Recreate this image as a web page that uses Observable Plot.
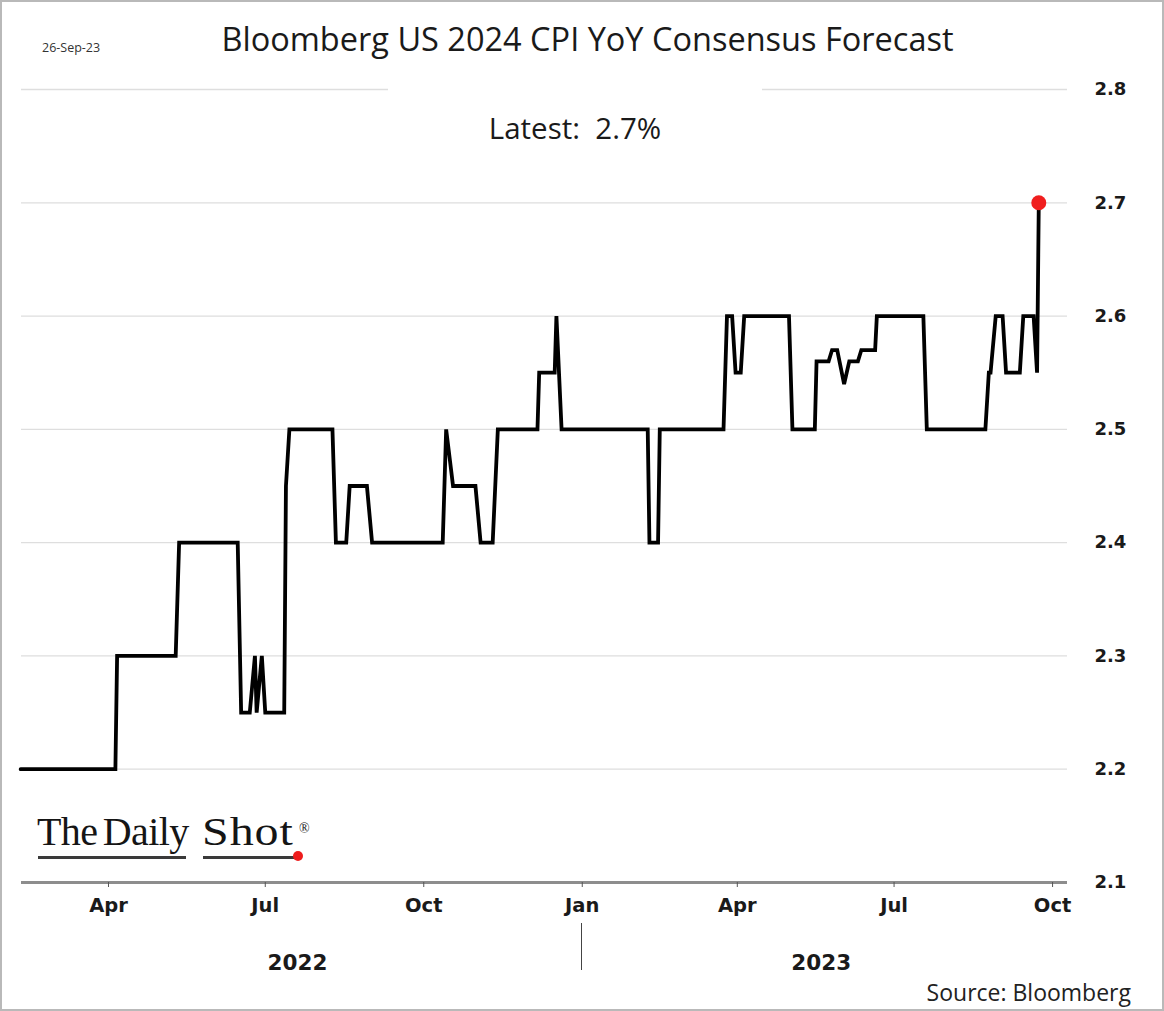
<!DOCTYPE html>
<html>
<head>
<meta charset="utf-8">
<script src="https://cdn.jsdelivr.net/npm/d3@7"></script>
<script src="https://cdn.jsdelivr.net/npm/@observablehq/plot@0.6"></script>
<style>
  body { margin: 0; background: #fff; }
  #wrap { position: relative; width: 1164px; height: 1011px; overflow: hidden; background: #fff; font-family: "Open Sans", sans-serif; color: #1a1a1a; }
  #wrap svg { position: absolute; left: 0; top: 0; }
  .abs { position: absolute; white-space: nowrap; }
  #frame { position: absolute; left: 0; top: 0; right: 0; bottom: 0; border: 2px solid #b9b9b9; pointer-events: none; }
  #title { left: 0; width: 1175px; top: 17px; text-align: center; font-size: 32.5px; line-height: 44px; }
  #date { left: 42px; top: 38px; font-size: 12.5px; line-height: 20px; color: #333; }
  #latest { left: 388px; width: 374px; top: 82px; height: 76px; background: #fff; text-align: center; font-size: 29.5px; line-height: 92px; }
  #source { right: 33px; top: 974px; font-size: 23px; line-height: 36px; color: #222; }
  .year { top: 945px; font-family: "DejaVu Sans", sans-serif; font-weight: bold; font-size: 21.5px; line-height: 36px; transform: translateX(-50%); }
  #sep { left: 577px; top: 923px; width: 1px; height: 47px; background: #444; }
  .logo { top: 810px; font-family: "Liberation Serif", "DejaVu Serif", serif; font-size: 40px; line-height: 44px; color: #151515; letter-spacing: -0.6px; word-spacing: -4px; }
  #logo2 { transform: scaleX(1.2); transform-origin: left center; letter-spacing: 0.8px; }
  #reg { left: 299px; top: 822px; font-family: "Liberation Serif", serif; font-size: 14px; line-height: 14px; color: #151515; }
  .ul { position: absolute; height: 3px; background: #3a3a3a; top: 856px; }
  #reddot { left: 293px; top: 851px; width: 10px; height: 10px; border-radius: 50%; background: #ee1c1c; }
</style>
</head>
<body>
<div id="wrap">
  <div id="chart"></div>
  <div class="abs" id="title">Bloomberg US 2024 CPI YoY Consensus Forecast</div>
  <div class="abs" id="date">26-Sep-23</div>
  <div class="abs" id="latest">Latest:&nbsp; 2.7%</div>
  <div class="abs logo" style="left:37px">The Daily</div>
  <div class="abs logo" id="logo2" style="left:202px">Shot</div>
  <div class="abs" id="reg">®</div>
  <div class="ul" style="left:38px;width:148px"></div>
  <div class="ul" style="left:203px;width:92px"></div>
  <div class="abs" id="reddot"></div>
  <div class="abs year" id="y2022"></div>
  <div class="abs year" id="y2023"></div>
  <div class="abs" id="sep"></div>
  <div class="abs" id="source">Source: Bloomberg</div>
  <div id="frame"></div>
</div>
<script>
// ---- data ----
const dates = [
  "2022-02-09","2022-04-05","2022-04-06","2022-05-10","2022-05-12","2022-06-15","2022-06-17","2022-06-22",
  "2022-06-25","2022-06-26","2022-06-29","2022-07-01","2022-07-12","2022-07-13","2022-07-15","2022-08-09",
  "2022-08-11","2022-08-17","2022-08-19","2022-08-29","2022-09-01","2022-10-12","2022-10-14","2022-10-18",
  "2022-10-31","2022-11-03","2022-11-10","2022-11-13","2022-12-06","2022-12-07","2022-12-16","2022-12-17",
  "2022-12-20","2023-02-08","2023-02-09","2023-02-14","2023-02-15","2023-03-24","2023-03-26","2023-03-29",
  "2023-03-31","2023-04-03","2023-04-05","2023-05-01","2023-05-03","2023-05-16","2023-05-17","2023-05-24",
  "2023-05-26","2023-05-29","2023-06-02","2023-06-05","2023-06-10","2023-06-12","2023-06-20","2023-06-21",
  "2023-07-18","2023-07-20","2023-08-23","2023-08-25","2023-08-26","2023-08-29","2023-09-02","2023-09-04",
  "2023-09-12","2023-09-14","2023-09-20","2023-09-22","2023-09-23"
];
const values = [
  2.2, 2.2, 2.3, 2.3, 2.4, 2.4, 2.25, 2.25,
  2.3, 2.25, 2.3, 2.25, 2.25, 2.45, 2.5, 2.5,
  2.4, 2.4, 2.45, 2.45, 2.4, 2.4, 2.5, 2.45,
  2.45, 2.4, 2.4, 2.5, 2.5, 2.55, 2.55, 2.6,
  2.5, 2.5, 2.4, 2.4, 2.5, 2.5, 2.6, 2.6,
  2.55, 2.55, 2.6, 2.6, 2.5, 2.5, 2.56, 2.56,
  2.57, 2.57, 2.54, 2.56, 2.56, 2.57, 2.57, 2.6,
  2.6, 2.5, 2.5, 2.55, 2.55, 2.6, 2.6, 2.55,
  2.55, 2.6, 2.6, 2.55, 2.7
];
const xTicks = ["2022-04-01","2022-07-01","2022-10-01","2023-01-01","2023-04-01","2023-07-01","2023-10-01"];
const xTickLabels = ["Apr","Jul","Oct","Jan","Apr","Jul","Oct"];
const yTicks = [2.1, 2.2, 2.3, 2.4, 2.5, 2.6, 2.7, 2.8];
const gridLevels = [2.2, 2.3, 2.4, 2.5, 2.6, 2.7, 2.8];
const years = [{label: "2022", mid: "2022-07-20"}, {label: "2023", mid: "2023-05-20"}];
const xDomain = ["2022-02-09T12:00Z", "2023-10-09T16:00Z"];
const yDomain = [2.1, 2.8];

// ---- build ----
const parse = s => new Date(s.length === 10 ? s + "T00:00Z" : s);
const rows = dates.map((d, i) => ({date: parse(d), value: values[i]}));
const tickDates = xTicks.map(parse);

const chart = Plot.plot({
  width: 1164,
  height: 1011,
  marginLeft: 21,
  marginRight: 97,
  marginTop: 89,
  marginBottom: 129,
  style: {background: "transparent", overflow: "visible", fontFamily: "DejaVu Sans, sans-serif", color: "#1a1a1a"},
  x: {type: "utc", domain: xDomain.map(parse)},
  y: {domain: yDomain},
  marks: [
    Plot.ruleY(gridLevels, {stroke: "#dedede", strokeWidth: 1.3}),
    Plot.ruleY([yDomain[0]], {stroke: "#8d8d8d", strokeWidth: 3}),
    Plot.axisX({
      ticks: tickDates,
      tickFormat: d => xTickLabels[tickDates.findIndex(t => +t === +d)],
      tickSize: 5,
      tickPadding: 11,
      fontSize: 19.5,
      fontWeight: "bold",
      stroke: "#555",
      fill: "#1a1a1a",
      label: null
    }),
    Plot.axisY({
      anchor: "right",
      ticks: yTicks,
      tickFormat: d => d.toFixed(1),
      tickSize: 0,
      tickPadding: 27,
      fontSize: 18,
      fontWeight: "bold",
      fill: "#1a1a1a",
      label: null
    }),
    Plot.line(rows, {x: "date", y: "value", stroke: "#000", strokeWidth: 3.8, strokeLinejoin: "miter", strokeMiterlimit: 3}),
    Plot.dot(rows.slice(-1), {x: "date", y: "value", r: 7.5, fill: "#f01e1e", stroke: "none"})
  ]
});
document.getElementById("chart").appendChild(chart);

// year labels positioned through the chart's x scale
const xs = chart.scale("x");
years.forEach(y => {
  const el = document.getElementById("y" + y.label);
  el.textContent = y.label;
  el.style.left = xs.apply(parse(y.mid)) + "px";
});
document.getElementById("sep").style.left = (xs.apply(tickDates[3]) - 0.5) + "px";
</script>
</body>
</html>
